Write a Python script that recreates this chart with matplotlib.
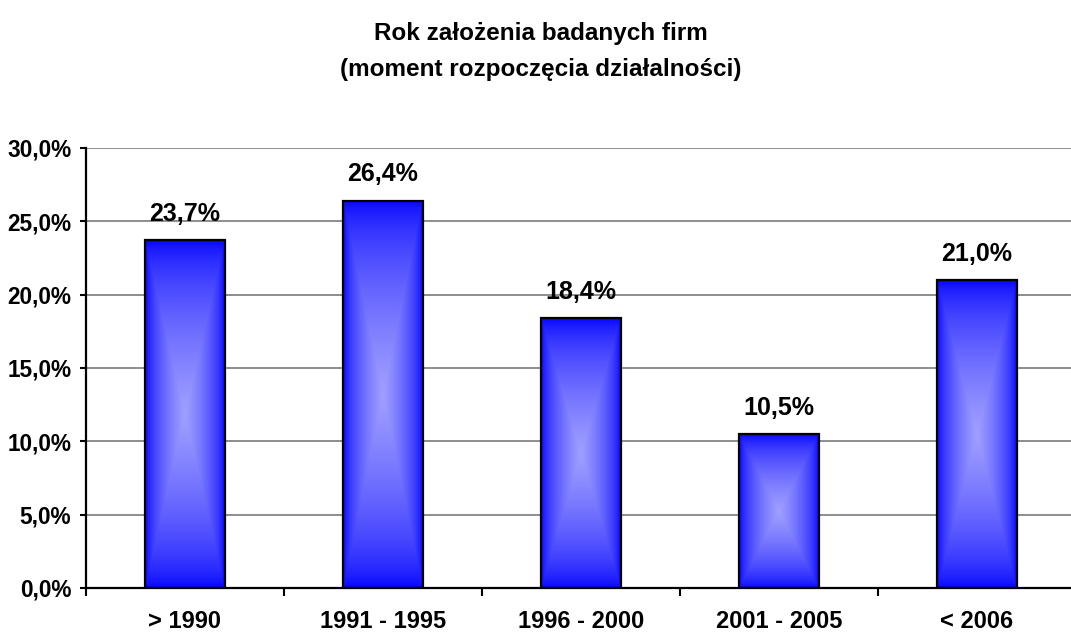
import numpy as np
import matplotlib
matplotlib.use("Agg")
import matplotlib.pyplot as plt
from matplotlib.ticker import FixedLocator

plt.rcParams['font.family'] = ['Liberation Sans', 'DejaVu Sans']
plt.rcParams['font.weight'] = 'bold'

# Data
categories = ["> 1990", "1991 - 1995", "1996 - 2000", "2001 - 2005", "< 2006"]
shares = [23.7, 26.4, 18.4, 10.5, 21.0]
y_ticks = [0, 5, 10, 15, 20, 25, 30]
title = "Rok założenia badanych firm\n(moment rozpoczęcia działalności)"


def fmt_pct(v):
    return f"{v:.1f}%".replace(".", ",")


def center_gradient(nx=120, ny=300, edge=(0.0, 0.0, 1.0), mid=(0.63, 0.63, 1.0), power=0.6):
    """Rectangular 'from centre' gradient: edge colour at the border, light at the centre."""
    u = np.abs(np.linspace(-1, 1, nx))[None, :]
    v = np.abs(np.linspace(-1, 1, ny))[:, None]
    t = np.maximum(u, v)
    w = (1 - t) ** power
    edge = np.array(edge)
    mid = np.array(mid)
    img = edge[None, None, :] + (mid - edge)[None, None, :] * w[:, :, None]
    return np.clip(img, 0, 1)


W, H = 1071, 634
fig = plt.figure(figsize=(W / 100, H / 100), dpi=100)
fig.patch.set_facecolor("white")

# axes: y axis at x=86px, category width 198px, 0% at y=588px, 30% at y=148px
ax = fig.add_axes([86 / W, (H - 588) / H, 990 / W, 440 / H])
ax.set_facecolor("white")

x = np.arange(len(categories))
bars = ax.bar(x, shares, width=0.404, facecolor="none", edgecolor="black",
              linewidth=1.6, zorder=4)

grad = center_gradient()
for b in bars:
    x0, w, h = b.get_x(), b.get_width(), b.get_height()
    ax.imshow(grad, extent=(x0, x0 + w, 0, h), aspect="auto",
              interpolation="bilinear", zorder=3, origin="lower")

for xi, v in zip(x, shares):
    ax.annotate(fmt_pct(v), (xi, v), xytext=(0, 14), textcoords="offset points",
                ha="center", va="baseline", fontsize=18, fontweight="bold")

ax.set_xlim(-0.5, len(categories) - 0.5)
ax.set_ylim(0, 30)

ax.set_yticks(y_ticks)
ax.set_yticklabels([fmt_pct(t) for t in y_ticks])
ax.yaxis.grid(True, color="#858585", linewidth=1.3, zorder=1)
ax.set_axisbelow(True)

ax.xaxis.set_major_locator(FixedLocator(np.arange(-0.5, len(categories), 1.0)))
ax.xaxis.set_major_formatter(plt.NullFormatter())
ax.xaxis.set_minor_locator(FixedLocator(x))
ax.set_xticklabels(categories, minor=True)

ax.tick_params(axis="x", which="major", direction="out", length=6, width=1.5, color="black")
ax.tick_params(axis="x", which="minor", length=0, pad=16, labelsize=17)
ax.tick_params(axis="y", direction="out", length=4.5, width=1.5, pad=6, labelsize=16.3)

for s in ("top", "right"):
    ax.spines[s].set_visible(False)
for s in ("left", "bottom"):
    ax.spines[s].set_linewidth(1.6)
    ax.spines[s].set_color("black")
    ax.spines[s].set_zorder(5)

fig.text(541 / W, 1 - 22 / H, title, ha="center", va="top", fontsize=17.5,
         fontweight="bold", linespacing=1.72)

fig.savefig("out.png", dpi=100, facecolor="white")
